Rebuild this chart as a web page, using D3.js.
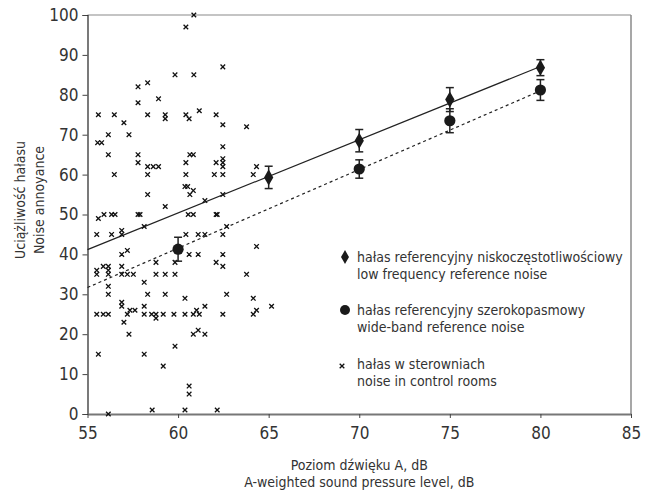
<!DOCTYPE html>
<html>
<head>
<meta charset="utf-8">
<script src="https://cdn.jsdelivr.net/npm/d3@7"></script>
<style>
  html, body { margin: 0; padding: 0; background: #fff; }
  svg { display: block; }
  text { font-family: "DejaVu Sans Condensed", "DejaVu Sans", sans-serif; font-stretch: condensed; fill: #333; }
</style>
</head>
<body>
<svg id="chart" width="650" height="497"></svg>
<script>
// Reference points: low frequency (diamonds) and wide-band (circles)
const lowFreqLevels = [65, 70, 75, 80];
const lowFreqMeans = [59.3, 68.5, 78.8, 86.8];
const lowFreqErr = [2.8, 2.8, 3.0, 2.0];

const wideBandLevels = [60, 70, 75, 80];
const wideBandMeans = [41.3, 61.4, 73.5, 81.2];
const wideBandErr = [3.0, 2.3, 3.0, 2.6];

// fitted lines (end points)
const lowFreqLine = [[55, 41.2], [80, 87.1]];
const wideBandLine = [[55, 31.7], [80, 81.0]];

// control room measurements [dB, annoyance]
const controlRooms = [
  [60.87, 100], [60.43, 97], [60.87, 85], [59.83, 85], [57.79, 82], [58.32, 83],
  [57.79, 78], [58.92, 79], [55.6, 75], [56.48, 75], [57.01, 73], [57.29, 70],
  [56.15, 70], [58.32, 75], [59.29, 75], [59.29, 74], [60.43, 75], [60.61, 74],
  [61.17, 76], [62.47, 87], [62.1, 75], [62.47, 72.5], [63.78, 72], [62.47, 67],
  [55.56, 68], [55.78, 68],
  [56.15, 65], [56.48, 60], [57.79, 65], [57.79, 63], [58.32, 62], [58.63, 62],
  [58.92, 62], [58.32, 60], [58.32, 55], [59.29, 52], [57.79, 50], [57.9, 50],
  [58.13, 47], [55.6, 49], [55.91, 50], [56.33, 50], [56.52, 50], [55.51, 45],
  [56.33, 45], [56.89, 46], [56.89, 45], [56.89, 40], [57.2, 41], [58.78, 38],
  [59.83, 38], [60.43, 63], [60.65, 65], [60.84, 65], [60.43, 60], [60.38, 57],
  [60.53, 57], [60.84, 56], [60.65, 55], [60.56, 50], [60.84, 50], [60.43, 45],
  [61.11, 45], [60.61, 40], [61.11, 40],
  [55.51, 36], [55.51, 35], [55.87, 37], [56.15, 37], [56.15, 36], [56.15, 35],
  [56.89, 37], [56.89, 35], [57.2, 35], [57.53, 35], [58.78, 35], [59.29, 35],
  [59.83, 35],
  [56.15, 32], [56.15, 30], [58.32, 30], [59.29, 30], [58.13, 33], [55.51, 25],
  [55.87, 25], [56.15, 25], [56.89, 28], [56.89, 27], [57.2, 25], [57.34, 26],
  [57.62, 26], [57.01, 23], [57.29, 20], [58.13, 27], [58.13, 25], [58.54, 25],
  [58.78, 25], [58.78, 24], [59.18, 25], [59.77, 25], [60.38, 25], [60.84, 25],
  [61.02, 26], [60.38, 29], [60.84, 20], [61.11, 21], [59.83, 17], [55.6, 15],
  [58.13, 15], [59.18, 12], [60.61, 7], [60.61, 5], [58.57, 1], [60.38, 1],
  [56.15, 0], [62.16, 1],
  [62.47, 64], [62.47, 63], [62.1, 63], [62.47, 62], [62.0, 60], [62.47, 60],
  [64.33, 62], [64.15, 60], [62.47, 55], [61.48, 53.5], [62.1, 50], [62.16, 50],
  [62.68, 47], [62.47, 45], [61.48, 45], [64.33, 42], [62.47, 40], [62.1, 38],
  [62.47, 37], [63.78, 35],
  [62.68, 30], [64.15, 29], [61.48, 27], [61.17, 25], [62.47, 25], [64.15, 25],
  [64.33, 26], [65.16, 27], [61.48, 20]
];

const xTicks = [55, 60, 65, 70, 75, 80, 85];
const yTicks = [0, 10, 20, 30, 40, 50, 60, 70, 80, 90, 100];

const xTitle = ['Poziom dźwięku A, dB', 'A-weighted sound pressure level, dB'];
const yTitle = ['Uciążliwość hałasu', 'Noise annoyance'];
const legendLabels = [
  ['hałas referencyjny niskoczęstotliwościowy', 'low frequency reference noise'],
  ['hałas referencyjny szerokopasmowy', 'wide-band reference noise'],
  ['hałas w sterowniach', 'noise in control rooms']
];

function drawChart() {
  const svg = d3.select('#chart');
  const margin = { top: 15, left: 87.5, right: 19, bottom: 83 };
  const width = 650 - margin.left - margin.right;
  const height = 497 - margin.top - margin.bottom;

  const g = svg.append('g')
    .attr('transform', 'translate(' + margin.left + ',' + margin.top + ')');

  const x = d3.scaleLinear().domain([55, 85]).range([0, width]);
  const y = d3.scaleLinear().domain([0, 100]).range([height, 0]);

  // frame: top and right border
  g.append('line')
    .attr('x1', 0).attr('x2', width).attr('y1', 0).attr('y2', 0)
    .attr('stroke', '#8a8a8a').attr('stroke-width', 1.2);
  g.append('line')
    .attr('x1', width).attr('x2', width).attr('y1', 0).attr('y2', height)
    .attr('stroke', '#8a8a8a').attr('stroke-width', 1.5);

  // axes
  const yAxis = g.append('g')
    .call(d3.axisLeft(y).tickValues(yTicks).tickSize(5).tickPadding(4));
  yAxis.select('.domain').attr('stroke', '#222').attr('stroke-width', 1.2);
  yAxis.selectAll('.tick line').attr('stroke', '#444');
  yAxis.selectAll('text').style('font-size', '17px').attr('fill', '#333');

  const xAxis = g.append('g')
    .attr('transform', 'translate(0,' + height + ')')
    .call(d3.axisBottom(x).tickValues(xTicks).tickSize(4).tickPadding(9).tickSizeOuter(0));
  xAxis.select('.domain').attr('stroke', '#777').attr('stroke-width', 2);
  xAxis.selectAll('.tick line').attr('stroke', '#444');
  xAxis.selectAll('text').style('font-size', '17px').attr('fill', '#333');

  // fitted lines
  const line = d3.line().x((d) => x(d[0])).y((d) => y(d[1]));
  g.append('path').datum(lowFreqLine)
    .attr('d', line).attr('fill', 'none').attr('stroke', '#222').attr('stroke-width', 1.2);
  g.append('path').datum(wideBandLine)
    .attr('d', line).attr('fill', 'none').attr('stroke', '#222').attr('stroke-width', 1.2)
    .attr('stroke-dasharray', '3,3');

  // control room crosses
  const cross = 'M-2.3,-2.3L2.3,2.3M-2.3,2.3L2.3,-2.3';
  g.selectAll('.cross')
    .data(controlRooms)
    .enter()
    .append('path')
    .attr('class', 'cross')
    .attr('d', cross)
    .attr('transform', (d) => 'translate(' + x(d[0]) + ',' + y(d[1]) + ')')
    .attr('stroke', '#111')
    .attr('stroke-width', 1.3)
    .attr('fill', 'none');

  // error bars
  function errorBars(levels, means, errs) {
    const data = levels.map((l, i) => ({ l: l, m: means[i], e: errs[i] }));
    const eb = g.append('g').attr('stroke', '#222').attr('stroke-width', 1.5);
    eb.selectAll('.v').data(data).enter().append('line')
      .attr('x1', (d) => x(d.l)).attr('x2', (d) => x(d.l))
      .attr('y1', (d) => y(d.m - d.e)).attr('y2', (d) => y(d.m + d.e));
    eb.selectAll('.t').data(data).enter().append('line')
      .attr('x1', (d) => x(d.l) - 4).attr('x2', (d) => x(d.l) + 4)
      .attr('y1', (d) => y(d.m + d.e)).attr('y2', (d) => y(d.m + d.e));
    eb.selectAll('.b').data(data).enter().append('line')
      .attr('x1', (d) => x(d.l) - 4).attr('x2', (d) => x(d.l) + 4)
      .attr('y1', (d) => y(d.m - d.e)).attr('y2', (d) => y(d.m - d.e));
    return data;
  }

  const lf = errorBars(lowFreqLevels, lowFreqMeans, lowFreqErr);
  const wb = errorBars(wideBandLevels, wideBandMeans, wideBandErr);

  g.selectAll('.diamond').data(lf).enter().append('path')
    .attr('d', d3.symbol().type(d3.symbolDiamond).size(75))
    .attr('transform', (d) => 'translate(' + x(d.l) + ',' + y(d.m) + ')')
    .attr('fill', '#1a1a1a');

  g.selectAll('.circle').data(wb).enter().append('circle')
    .attr('cx', (d) => x(d.l)).attr('cy', (d) => y(d.m)).attr('r', 5.6)
    .attr('fill', '#1a1a1a');

  // legend
  const legend = svg.append('g').attr('transform', 'translate(345,0)');
  const rowY = [257, 310, 364];
  legend.append('path')
    .attr('d', d3.symbol().type(d3.symbolDiamond).size(55))
    .attr('transform', 'translate(0,' + rowY[0] + ')').attr('fill', '#1a1a1a');
  legend.append('circle').attr('cx', 0).attr('cy', rowY[1]).attr('r', 5).attr('fill', '#1a1a1a');
  legend.append('path').attr('d', cross)
    .attr('transform', 'translate(-3,' + (rowY[2] + 2) + ')')
    .attr('stroke', '#111').attr('stroke-width', 1.3);

  legendLabels.forEach((lines, i) => {
    lines.forEach((t, j) => {
      legend.append('text')
        .attr('x', 12)
        .attr('y', rowY[i] + j * 16.7)
        .attr('dy', '0.35em')
        .style('font-size', '14px')
        .text(t);
    });
  });

  // axis titles
  xTitle.forEach((t, i) => {
    svg.append('text')
      .attr('x', margin.left + width / 2)
      .attr('y', 465 + i * 17.5)
      .attr('dy', '0.35em')
      .attr('text-anchor', 'middle')
      .style('font-size', '14px')
      .text(t);
  });

  yTitle.forEach((t, i) => {
    svg.append('text')
      .attr('transform', 'translate(' + (20 + i * 19) + ',200) rotate(-90)')
      .attr('dy', '0.35em')
      .attr('text-anchor', 'middle')
      .style('font-size', '14px')
      .text(t);
  });
}

drawChart();
</script>
</body>
</html>
